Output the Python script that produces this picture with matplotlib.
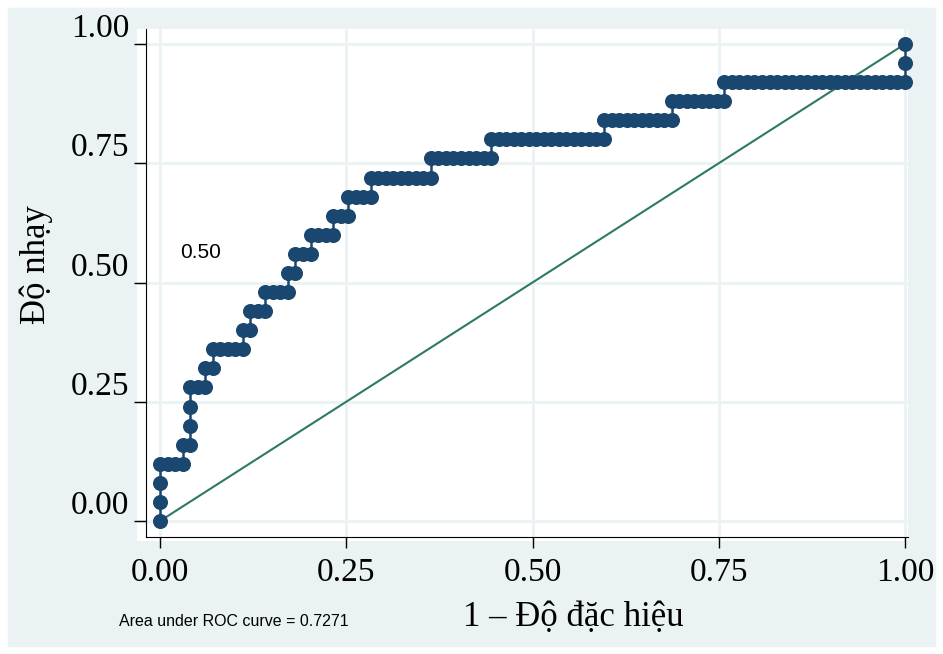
import numpy as np
import matplotlib
matplotlib.use("Agg")
import matplotlib.pyplot as plt
from matplotlib.patches import Rectangle

# ROC staircase: for each true-positive count (of 25), first and last false-positive count (of 99)
n_pos = 25
n_neg = 99
tp_level = [0, 1, 2, 3, 4, 5, 6, 7, 8, 9, 10, 11, 12, 13, 14, 15, 16, 17, 18, 19, 20, 21, 22, 23, 24, 25]
fp_first = [0, 0, 0, 0, 3, 4, 4, 4, 6, 7, 11, 12, 14, 17, 18, 20, 23, 25, 28, 36, 44, 59, 68, 75, 99, 99]
fp_last = [0, 0, 0, 3, 4, 4, 4, 6, 7, 11, 12, 14, 17, 18, 20, 23, 25, 28, 36, 44, 59, 68, 75, 99, 99, 99]

auc_text = "Area under ROC curve = 0.7271"
ticks = [0.0, 0.25, 0.5, 0.75, 1.0]
tick_labels = ["0.00", "0.25", "0.50", "0.75", "1.00"]

# expand each threshold into its own point
fpr, tpr = [], []
for tp, a, b in zip(tp_level, fp_first, fp_last):
    for fp in range(a, b + 1):
        fpr.append(fp / n_neg)
        tpr.append(tp / n_pos)

W, H = 943, 654
fig = plt.figure(figsize=(W / 100, H / 100), dpi=100, facecolor="white")
fig.patches.append(Rectangle((8 / W, 1 - 646 / H), 927 / W, 638 / H,
                             transform=fig.transFigure, color="#EAF2F3", zorder=-10))

ax = fig.add_axes([137 / W, 1 - 541 / H, (908 - 137) / W, (541 - 29) / H])
ax.set_zorder(1)
ax.set_facecolor("white")
ax.set_xlim((137 - 160) / 745, (908 - 160) / 745)
ax.set_ylim((521 - 541) / 477, (521 - 29) / 477)

ax.grid(True, color="#EAF2F3", lw=2)
ax.set_axisbelow(True)

ax.plot([0, 1], [0, 1], color="#2E7866", lw=1.5, zorder=2)
ax.plot(fpr, tpr, color="#1A476F", lw=1.8, marker="o", markersize=9.8,
        zorder=3, clip_on=False)

for s in ["top", "right"]:
    ax.spines[s].set_visible(False)
ax.spines["left"].set_position(("data", -14 / 745))
ax.spines["bottom"].set_position(("data", -16 / 477))
ax.spines["left"].set_bounds(-16 / 477, (521 - 29) / 477)
ax.spines["bottom"].set_bounds(-14 / 745, (908 - 160) / 745)

serif = "Liberation Serif"
ax.set_xticks(ticks)
ax.set_xticklabels(tick_labels, fontfamily=serif, fontsize=24)
ax.set_yticks(ticks)
ax.set_yticklabels(tick_labels, fontfamily=serif, fontsize=24)
ax.tick_params(axis="x", direction="out", length=8, width=1, pad=7)
ax.tick_params(axis="y", direction="out", length=9, width=1, pad=3)
for lab in ax.get_yticklabels():
    lab.set_verticalalignment("bottom")

ax.text(20 / 745, (521 - 253) / 477, "0.50", fontfamily="Liberation Sans",
        fontsize=15, ha="left", va="center")

fig.text(36 / W, 1 - 265 / H, "Độ nhạy", fontfamily=serif, fontsize=25,
         rotation=90, ha="center", va="center")
fig.text(573 / W, 1 - 617 / H, "1 – Độ đặc hiệu", fontfamily=serif, fontsize=25,
         ha="center", va="center")
fig.text(119 / W, 1 - 621 / H, auc_text, fontfamily="Liberation Sans",
         fontsize=11.5, ha="left", va="center")

fig.savefig("out.png", dpi=100, facecolor=fig.get_facecolor())
